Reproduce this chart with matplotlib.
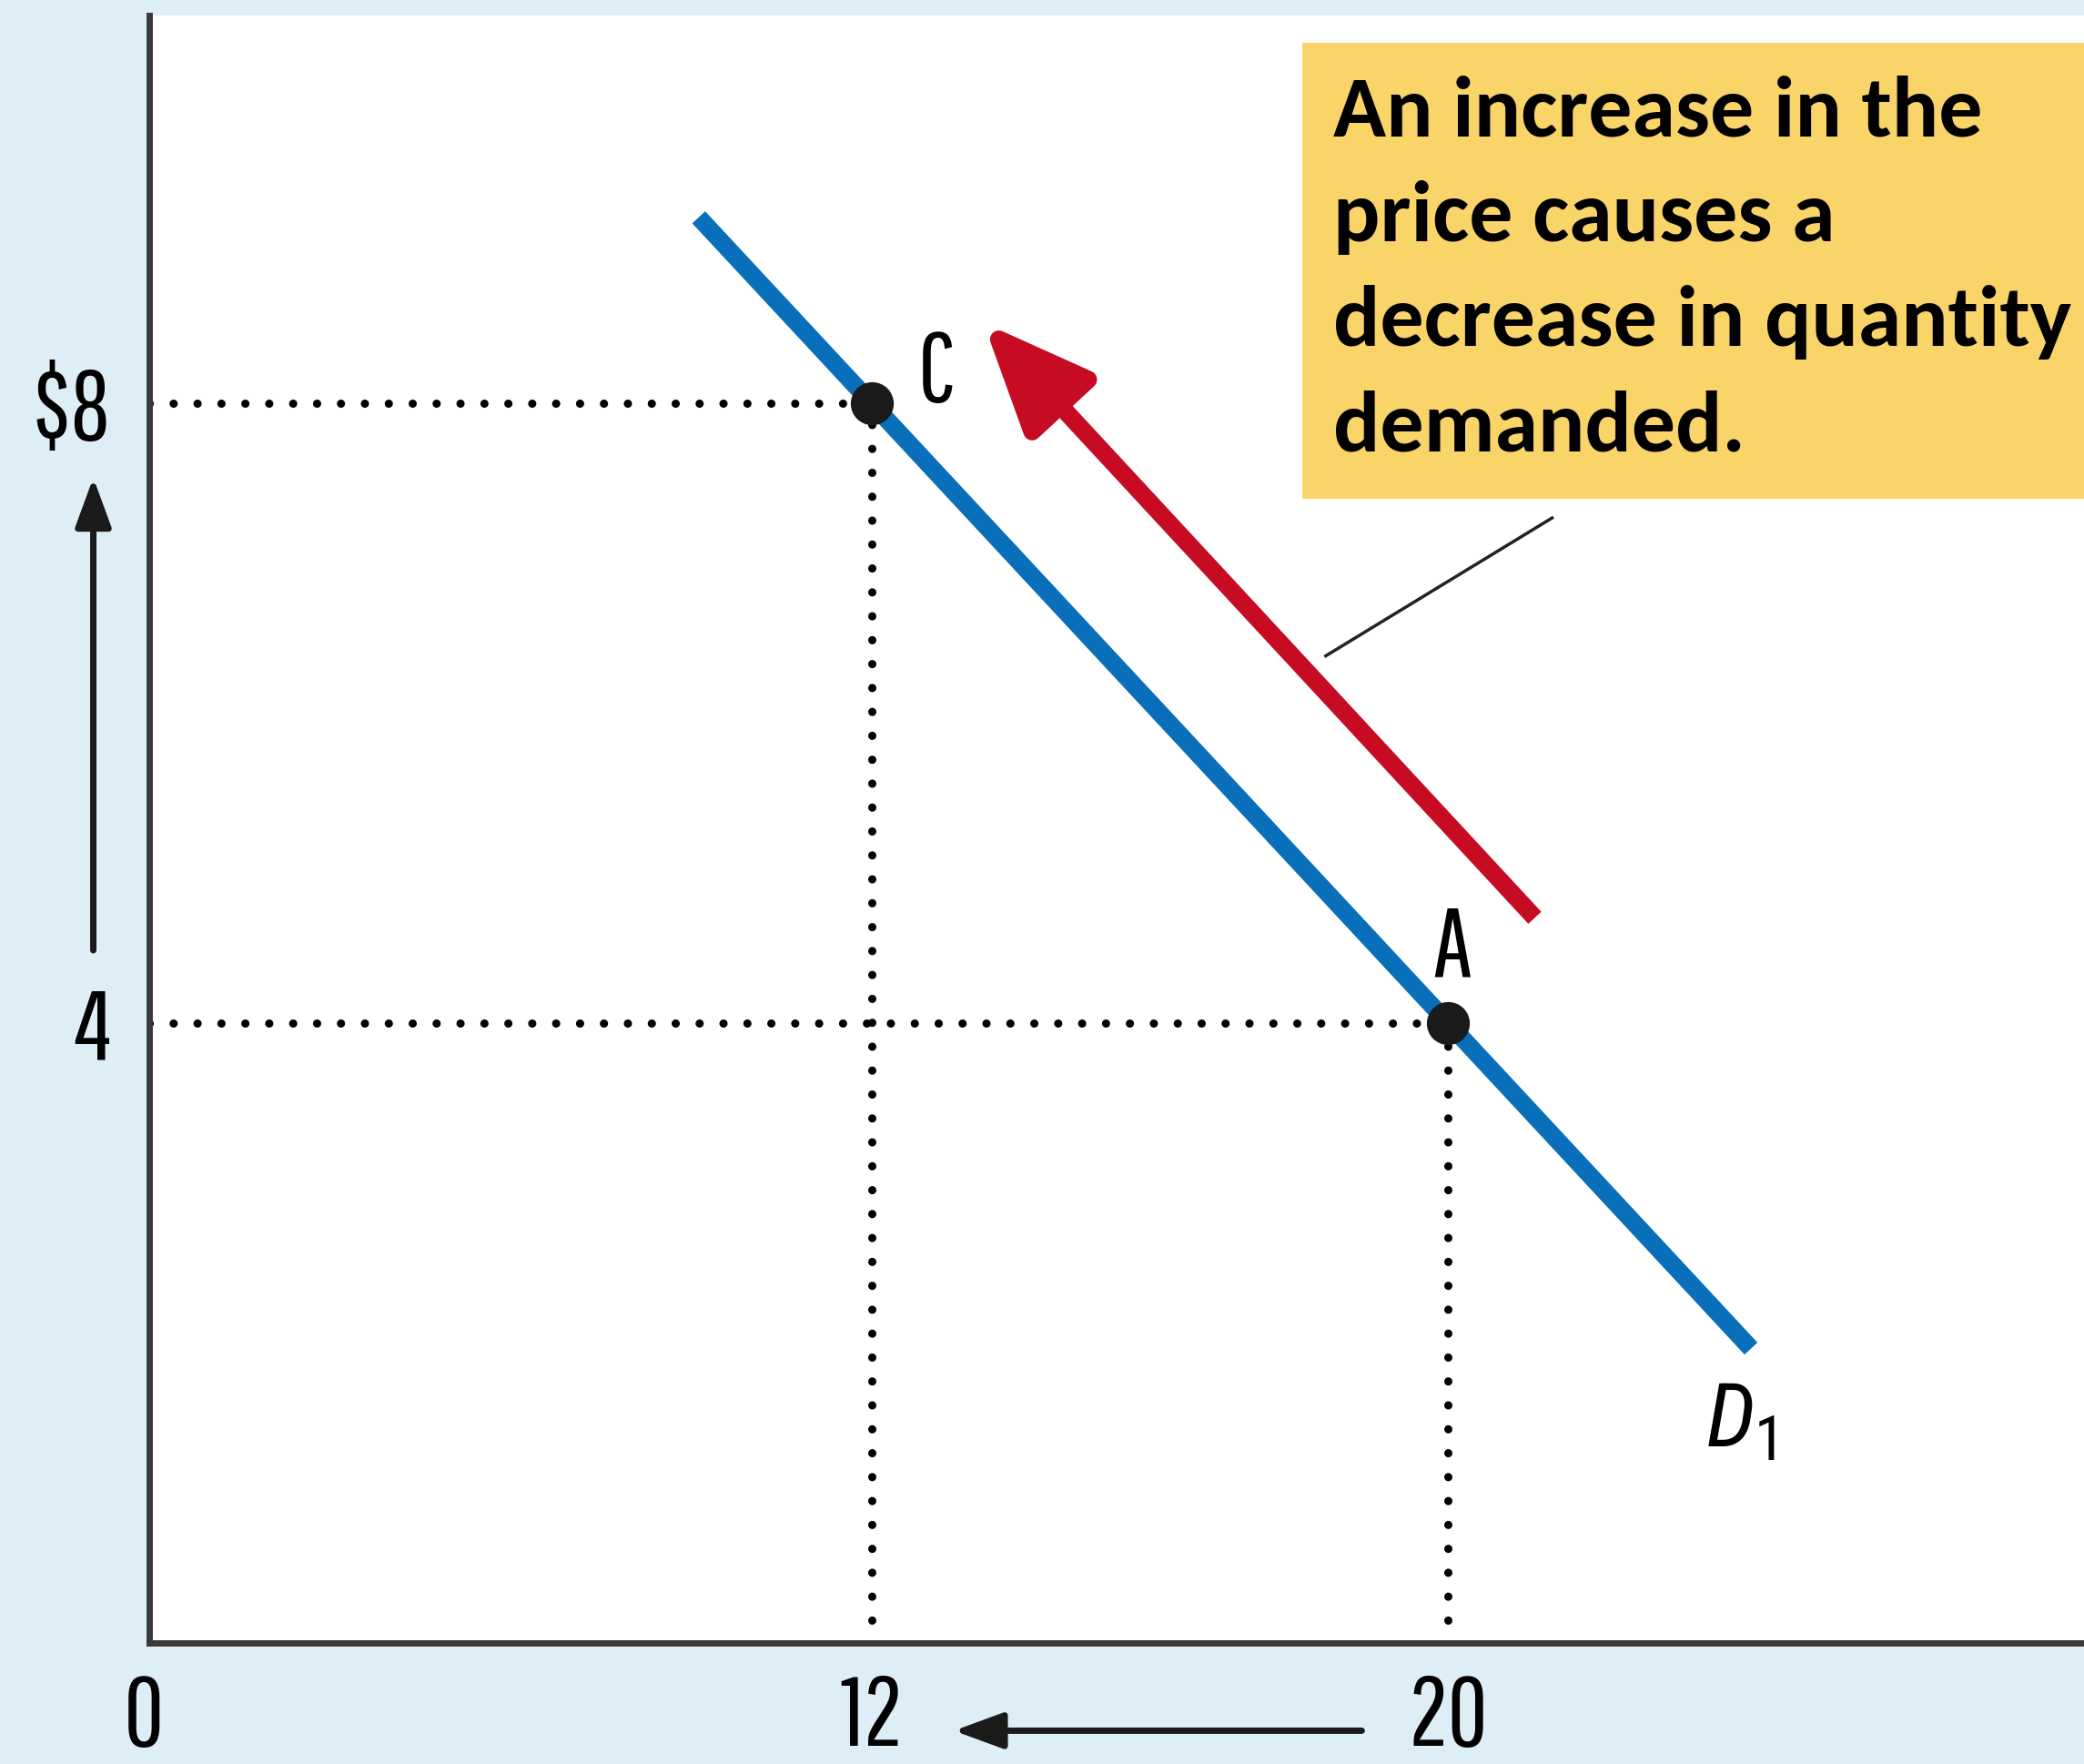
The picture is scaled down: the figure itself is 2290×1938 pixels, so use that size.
import matplotlib.pyplot as plt
from matplotlib.patches import Rectangle

plt.rcParams['mathtext.fontset'] = 'custom'
plt.rcParams['mathtext.rm'] = 'Roboto Condensed'
plt.rcParams['mathtext.it'] = 'Roboto Condensed:italic'

# axis labels
price_ticks = [4, 8]
price_labels = ["4", "$8"]
qty_ticks = [12, 20]
qty_labels = ["12", "20"]

# demand curve D1 (end points)
demand_q = [9.6, 24.2]
demand_p = [9.2, 1.9]

# points on the curve
point_names = ["C", "A"]
point_q = [12, 20]
point_p = [8, 4]

# red movement arrow (tail -> head)
move_tail = (21.2, 4.68)
move_head = (13.55, 8.52)

callout = "An increase in the\nprice causes a\ndecrease in quantity\ndemanded."

bg = '#deeef6'
blue = '#0a6fbb'
red = '#c70b23'
yellow = '#f9d468'
narrow = ['Pathway Gothic One', 'Roboto Condensed', 'DejaVu Sans']
lsize = 78

fig = plt.figure(figsize=(22.9, 19.38), dpi=100, facecolor=bg)
ax = fig.add_axes([0.0714, 0.0686, 0.9286, 0.9224])
xmin, xmax = 1.97, 28.82
ax.set_xlim(xmin, xmax)
ax.set_ylim(0, 10.5)
ax.set_facecolor('white')

for s in ['top', 'right']:
    ax.spines[s].set_visible(False)
for s in ['left', 'bottom']:
    ax.spines[s].set_color('#3a3a3a')
    ax.spines[s].set_linewidth(5)

ax.set_xticks(qty_ticks, qty_labels)
ax.set_yticks(price_ticks, price_labels)
ax.tick_params(axis='x', length=0, pad=24, labelsize=lsize)
ax.tick_params(axis='y', length=0, pad=30, labelsize=lsize)
for lab in ax.get_xticklabels() + ax.get_yticklabels():
    lab.set_family(narrow)
ax.annotate("0", xy=(0, 0), xycoords='axes fraction', xytext=(-4, -24),
            textcoords='offset points', ha='center', va='top',
            fontsize=lsize, family=narrow)

# dotted guide lines
dots = dict(color='black', lw=6.5, linestyle=(0, (0.01, 2.9)),
            dash_capstyle='round', zorder=2)
for q, p in zip(point_q, point_p):
    ax.plot([xmin, q], [p, p], **dots)
    ax.plot([q, q], [0.15, p], **dots)

# demand curve
ax.plot(demand_q, demand_p, color=blue, lw=14, solid_capstyle='butt', zorder=3)
ax.text(24.05, 1.42, r'$D_1$', fontsize=70, ha='center', va='center')

# points
ax.plot(point_q, point_p, 'o', ms=33, color='#1a1a1a', zorder=5)
offsets = [(51, 23), (3, 58)]
for name, q, p, off in zip(point_names, point_q, point_p, offsets):
    ax.annotate(name, xy=(q, p), xytext=off, textcoords='offset points',
                ha='center', va='center', fontsize=lsize, family=narrow)

# red arrow
ax.annotate("", xy=move_head, xytext=move_tail,
            arrowprops=dict(arrowstyle='-|>,head_length=1.7,head_width=0.72',
                            mutation_scale=42, lw=14, color=red,
                            shrinkA=0, shrinkB=0, capstyle='butt'))

# leader line to the callout
ax.plot([21.44, 18.3], [7.26, 6.37], color='#222222', lw=2.5)

# axis direction arrows
small = dict(arrowstyle='-|>,head_length=0.6,head_width=0.22', mutation_scale=55,
             lw=5, color='#1a1a1a', shrinkA=0, shrinkB=0)
ax.annotate("", xy=(1.2, 7.52), xytext=(1.2, 4.47), arrowprops=small,
            annotation_clip=False)
ax.annotate("", xy=(13.14, -0.566), xytext=(18.8, -0.566), arrowprops=small,
            annotation_clip=False)

# callout box
fig.patches.append(Rectangle((1431 / 2290, 1 - 548 / 1938), 1 - 1431 / 2290,
                             (548 - 47) / 1938, transform=fig.transFigure,
                             facecolor=yellow, edgecolor='none', zorder=10))
fig.text(1465 / 2290, 1 - 82 / 1938, callout, ha='left', va='top',
         fontsize=69, fontweight='bold', family=['Carlito', 'DejaVu Sans'],
         linespacing=1.5, zorder=11)

fig.savefig('out.png', dpi=100, facecolor=bg)
